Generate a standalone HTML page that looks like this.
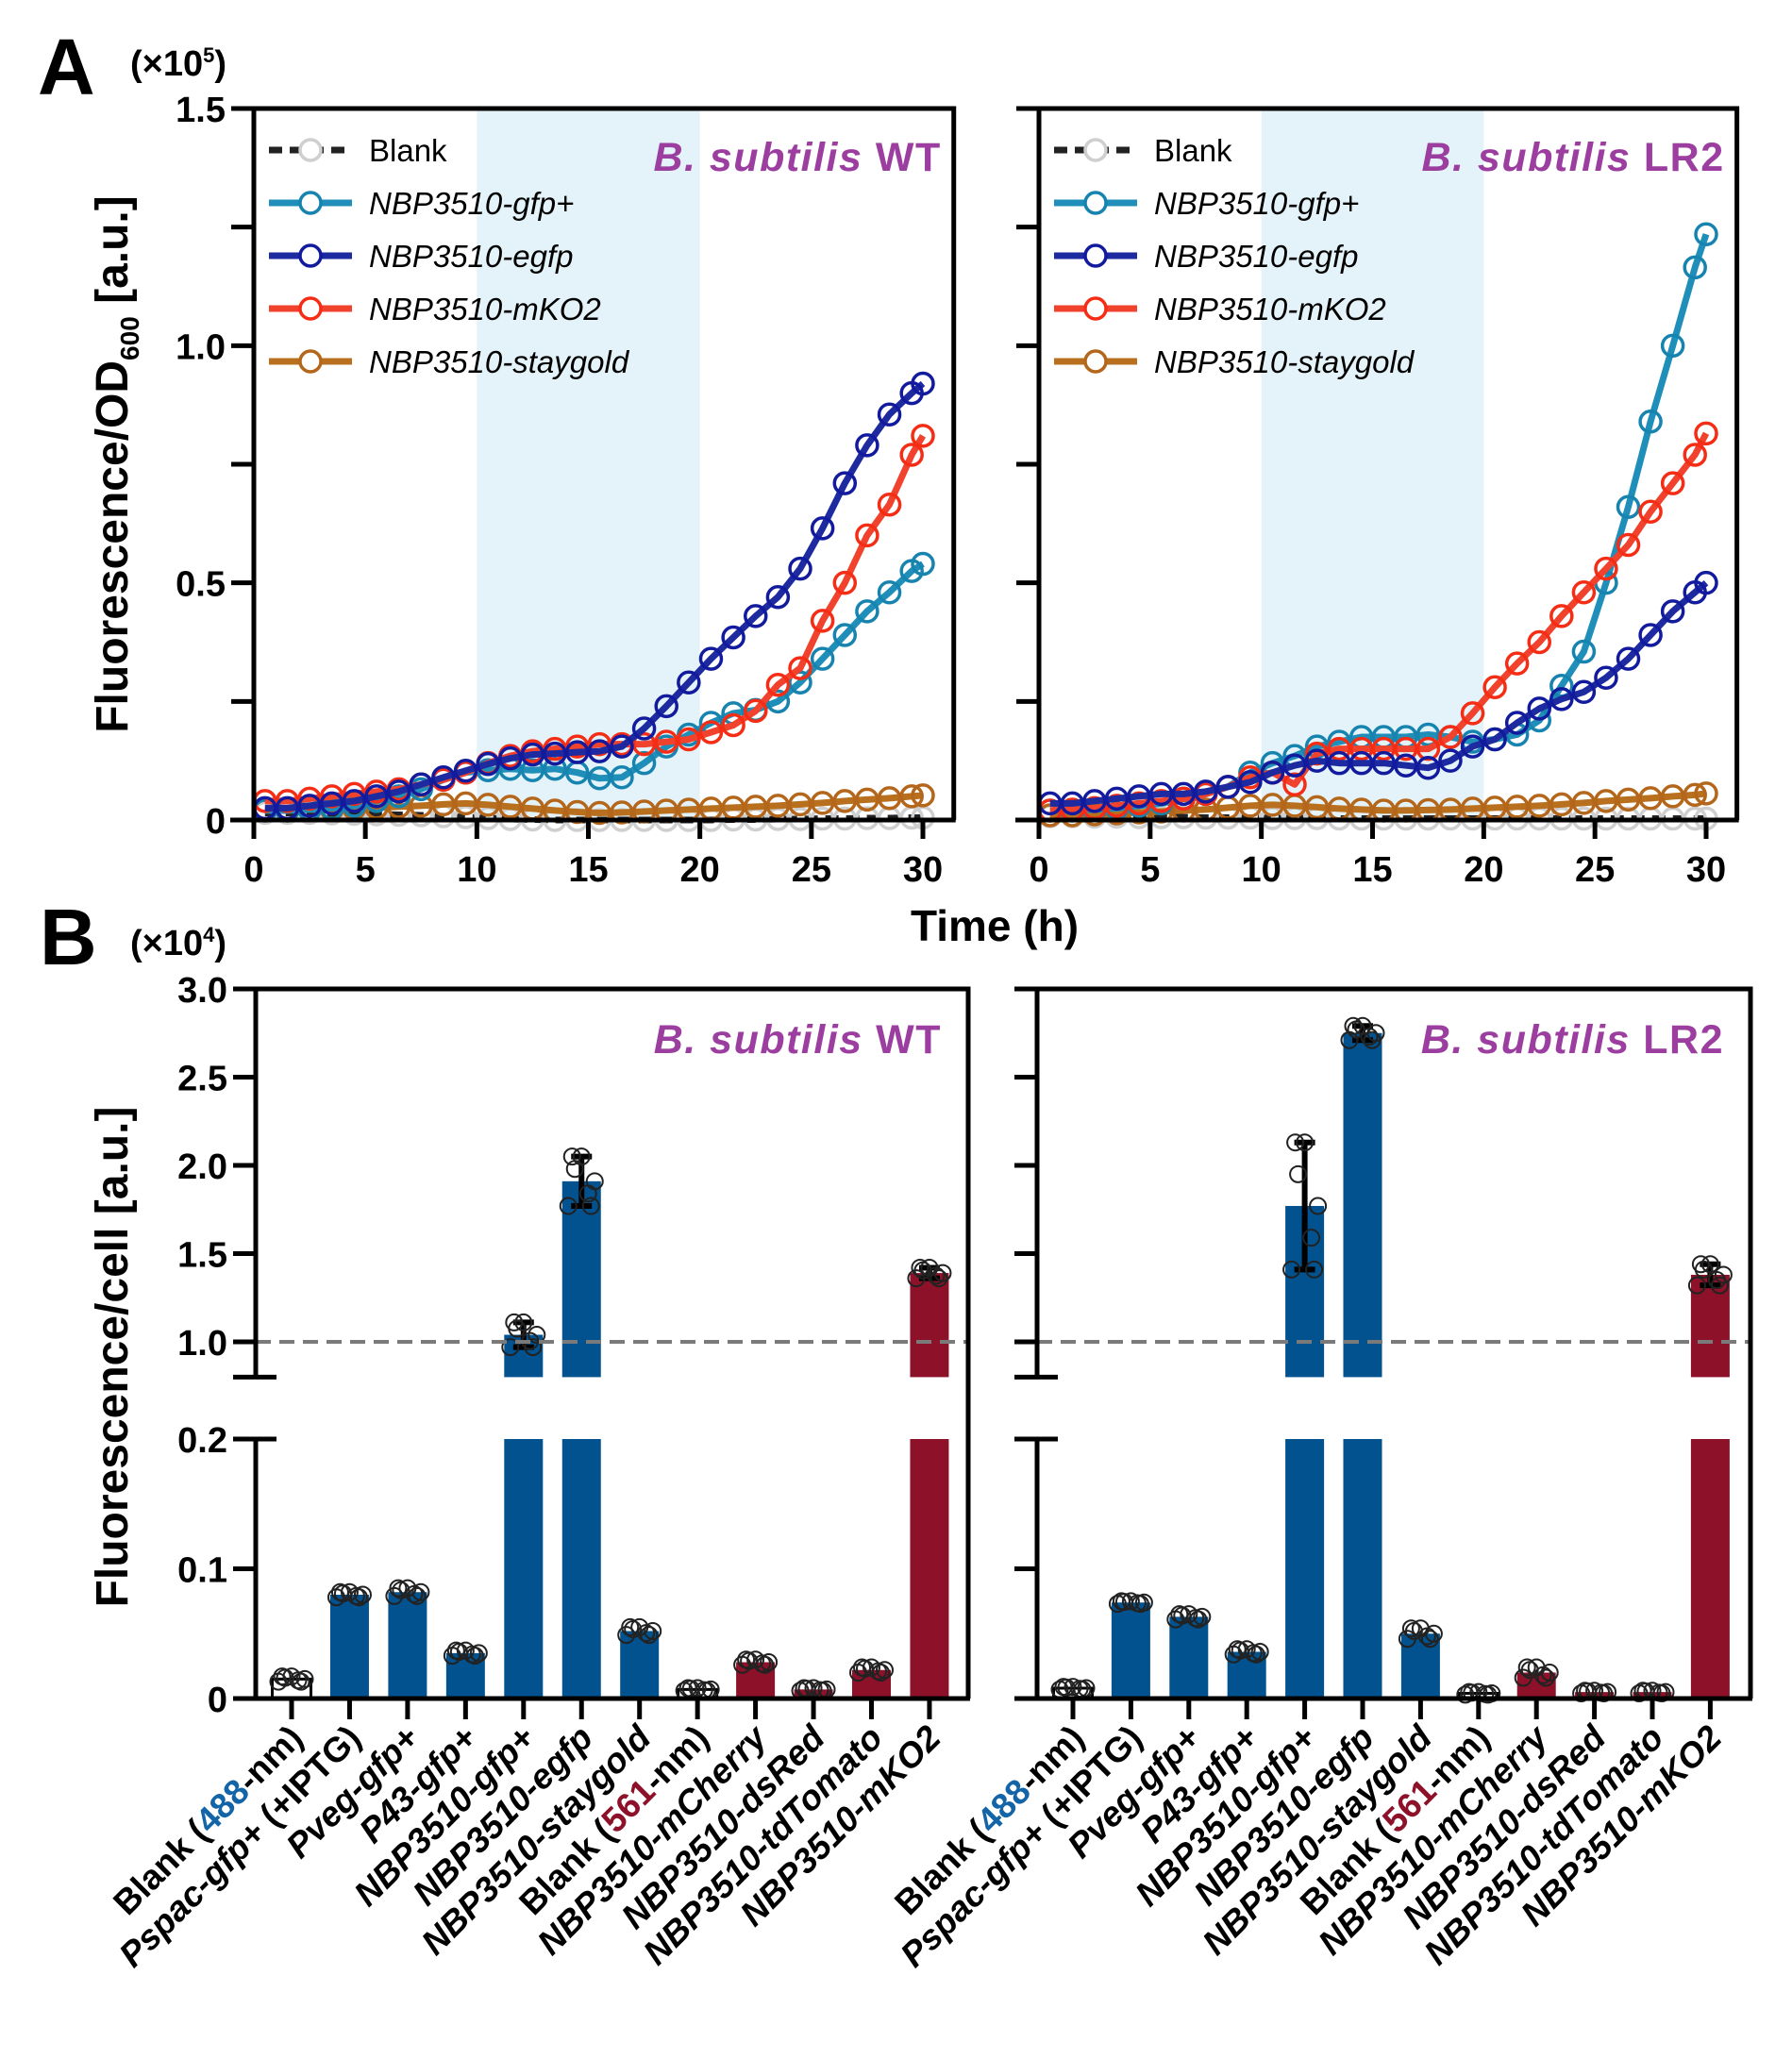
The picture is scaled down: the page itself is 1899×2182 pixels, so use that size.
<!DOCTYPE html>
<html><head><meta charset="utf-8"><style>
html,body{margin:0;padding:0;background:#fff}
svg{display:block}
text{font-family:"Liberation Sans",Arial,sans-serif}
</style></head><body>
<svg id="fig" width="1899" height="2182" viewBox="0 0 1899 2182" xmlns="http://www.w3.org/2000/svg">
<g id="static">
<text x="40" y="100" font-size="84" font-weight="bold">A</text>
<text x="138" y="80" font-size="38" font-weight="bold">(×10<tspan font-size="22" dy="-14">5</tspan><tspan dy="14">)</tspan></text>
<text x="42" y="1022" font-size="84" font-weight="bold">B</text>
<text x="138" y="1012" font-size="38" font-weight="bold">(×10<tspan font-size="22" dy="-14">4</tspan><tspan dy="14">)</tspan></text>
<text transform="translate(135,492) rotate(-90)" text-anchor="middle" font-size="48" font-weight="bold">Fluorescence/OD<tspan font-size="28" dy="12">600</tspan><tspan dy="-12"> [a.u.]</tspan></text>
<text transform="translate(135,1438) rotate(-90)" text-anchor="middle" font-size="48" font-weight="bold">Fluorescence/cell [a.u.]</text>
<text x="1054" y="997" text-anchor="middle" font-size="46" font-weight="bold">Time (h)</text>
</g>
</svg>
<script>
// ---------- Panel A data ----------
const timesA = [0.5,1.5,2.5,3.5,4.5,5.5,6.5,7.5,8.5,9.5,10.5,11.5,12.5,13.5,14.5,15.5,16.5,17.5,18.5,19.5,20.5,21.5,22.5,23.5,24.5,25.5,26.5,27.5,28.5,29.5,30];
const seriesNames = ["Blank","NBP3510-gfp+","NBP3510-egfp","NBP3510-mKO2","NBP3510-staygold"];
const wtBlank = [0.015,0.015,0.015,0.014,0.013,0.012,0.011,0.01,0.008,0.006,0.004,0.002,0.001,0,0,0,0,0,0,0,0,0.001,0.001,0.002,0.002,0.003,0.003,0.004,0.004,0.005,0.005];
const wtGfp = [0.02,0.02,0.022,0.025,0.03,0.04,0.05,0.065,0.085,0.1,0.105,0.108,0.105,0.108,0.1,0.088,0.09,0.12,0.155,0.18,0.205,0.225,0.232,0.25,0.29,0.34,0.39,0.44,0.48,0.525,0.54];
const wtEgfp = [0.025,0.025,0.03,0.035,0.04,0.05,0.06,0.075,0.09,0.104,0.118,0.13,0.138,0.14,0.143,0.145,0.155,0.193,0.24,0.29,0.34,0.385,0.43,0.47,0.53,0.615,0.71,0.79,0.855,0.9,0.92];
const wtMko2 = [0.04,0.04,0.045,0.05,0.055,0.06,0.065,0.075,0.085,0.1,0.12,0.135,0.145,0.15,0.155,0.16,0.16,0.16,0.165,0.17,0.185,0.2,0.23,0.285,0.32,0.42,0.5,0.6,0.665,0.77,0.81];
const wtStay = [0.02,0.02,0.022,0.022,0.024,0.026,0.028,0.03,0.033,0.035,0.032,0.028,0.024,0.02,0.017,0.015,0.016,0.018,0.02,0.022,0.024,0.026,0.028,0.03,0.033,0.036,0.04,0.043,0.046,0.05,0.052];
const lrBlank = [0.008,0.008,0.007,0.007,0.006,0.006,0.006,0.005,0.005,0.005,0.004,0.004,0.004,0.003,0.003,0.003,0.003,0.003,0.003,0.003,0.003,0.003,0.003,0.003,0.003,0.003,0.003,0.003,0.003,0.003,0.003];
const lrGfp = [0.02,0.02,0.022,0.025,0.03,0.035,0.045,0.055,0.07,0.1,0.12,0.135,0.155,0.165,0.175,0.175,0.175,0.18,0.175,0.165,0.17,0.18,0.21,0.283,0.355,0.5,0.66,0.84,1.0,1.165,1.235];
const lrEgfp = [0.035,0.035,0.04,0.045,0.05,0.055,0.055,0.06,0.07,0.08,0.1,0.115,0.125,0.12,0.12,0.12,0.115,0.11,0.125,0.155,0.17,0.205,0.235,0.255,0.27,0.3,0.34,0.39,0.44,0.48,0.5];
const lrMko2 = [0.02,0.022,0.025,0.03,0.035,0.04,0.045,0.055,0.07,0.09,0.1,0.075,0.14,0.15,0.15,0.15,0.15,0.15,0.175,0.225,0.28,0.33,0.375,0.43,0.48,0.53,0.58,0.65,0.71,0.77,0.815];
const lrStay = [0.01,0.01,0.012,0.014,0.016,0.018,0.02,0.022,0.026,0.03,0.032,0.03,0.027,0.024,0.022,0.02,0.02,0.021,0.022,0.024,0.026,0.028,0.03,0.033,0.036,0.04,0.043,0.046,0.05,0.053,0.056];
const xTicksA = [0,5,10,15,20,25,30];
const yTickLabelsA = ["0","0.5","1.0","1.5"];
const yTicksA = [0,0.25,0.5,0.75,1.0,1.25,1.5];

// ---------- Panel B data ----------
const categoriesB = ["Blank (488-nm)","Pspac-gfp+ (+IPTG)","Pveg-gfp+","P43-gfp+","NBP3510-gfp+","NBP3510-egfp","NBP3510-staygold","Blank (561-nm)","NBP3510-mCherry","NBP3510-dsRed","NBP3510-tdTomato","NBP3510-mKO2"];
const wtBars = [0.015,0.08,0.082,0.035,1.04,1.91,0.052,0.007,0.028,0.007,0.022,1.39];
const wtErr = [0.002,0.002,0.003,0.002,0.07,0.14,0.003,0.001,0.002,0.001,0.002,0.03];
const lrBars = [0.008,0.074,0.063,0.036,1.77,2.75,0.05,0.004,0.02,0.005,0.005,1.38];
const lrErr = [0.001,0.001,0.002,0.002,0.36,0.04,0.004,0.001,0.004,0.001,0.001,0.06];
const barKinds = ["blank","blue","blue","blue","blue","blue","blue","blank","red","red","red","red"];
const yTicksBLow = [0,0.1,0.2];
const yTicksBHigh = [1.0,1.5,2.0,2.5,3.0];

const NS="http://www.w3.org/2000/svg";
const svg=document.getElementById('fig');
function mk(tag,attrs,parent){const e=document.createElementNS(NS,tag);for(const k in attrs)e.setAttribute(k,attrs[k]);(parent||svg).appendChild(e);return e;}

const colors={"Blank":"#222","NBP3510-gfp+":"#1f8fba","NBP3510-egfp":"#1e2aa0","NBP3510-mKO2":"#f0422c","NBP3510-staygold":"#b8701e"};
const markerCol={"Blank":"#cfcfcf","NBP3510-gfp+":"#1784b0","NBP3510-egfp":"#121b9e","NBP3510-mKO2":"#f52d15","NBP3510-staygold":"#b4661a"};

function panelA(px0,px30,name,title,data){
  const y0=869,y15=115;
  const sx=t=>px0+(px30-px0)*t/30;
  const sy=v=>y0-(y0-y15)*v/1.5;
  const left=px0, right=px0+(px30-px0)*31.3/30+2;
  const g=mk('g',{});
  
  
  const sh=mk('rect',{x:sx(10),y:y15,width:sx(20)-sx(10),height:y0-y15,fill:'#e3f3f9'},g);
  
  
  const order=[0,4,1,3,2];
  order.forEach(i=>{
    const nm=seriesNames[i],vals=data[i];
    const sg=mk('g',{},g);
    
    
    const d=vals.map((v,k)=>(k?'L':'M')+sx(timesA[k]).toFixed(1)+','+sy(v).toFixed(1)).join('');
    const ln=mk('path',{d:d,fill:'none',stroke:colors[nm],'stroke-width':7,'stroke-linejoin':'round','stroke-dasharray':nm==="Blank"?'14 8':'none'},sg);
    
    
    vals.forEach((v,k)=>{
      const c=mk('circle',{cx:sx(timesA[k]),cy:sy(v),r:11,fill:'none',stroke:markerCol[nm],'stroke-width':3.5},sg);
      
      
    });
  });
  const fr=mk('path',{d:`M${left},${y15}L${right},${y15}L${right},${y0}`,fill:'none',stroke:'#000','stroke-width':5},g);
  
  
  const ya=mk('line',{x1:left,y1:y15-2,x2:left,y2:y0,stroke:'#000','stroke-width':5},g);
  
  
  const xa=mk('line',{x1:left-25,y1:y0,x2:right+2,y2:y0,stroke:'#000','stroke-width':5},g);
  
  
  yTicksA.forEach(v=>{
    const t=mk('line',{x1:left-24,y1:sy(v),x2:left,y2:sy(v),stroke:'#000','stroke-width':5},g);
    
    
  });
  if(px0<600){
    yTickLabelsA.forEach((s,k)=>{
      const t=mk('text',{x:left-30,y:sy(k*0.5)+14,'text-anchor':'end','font-size':38,'font-weight':'bold'},g);
      t.textContent=s;
      
      
    });
  }
  xTicksA.forEach(v=>{
    const t=mk('line',{x1:sx(v),y1:y0,x2:sx(v),y2:y0+20,stroke:'#000','stroke-width':5},g);
    
    
    const l=mk('text',{x:sx(v),y:y0+65,'text-anchor':'middle','font-size':38,'font-weight':'bold'},g);
    l.textContent=v;
    
    
  });
  const lg=mk('g',{},g);
  
  
  seriesNames.forEach((nm,i)=>{
    const yy=159+i*56;
    const e=mk('g',{},lg);
    
    
    mk('line',{x1:left+16,y1:yy,x2:left+104,y2:yy,stroke:colors[nm],'stroke-width':7,'stroke-dasharray':nm==="Blank"?'14 8':'none'},e);
    mk('circle',{cx:left+60,cy:yy,r:11,fill:'#fff',stroke:markerCol[nm],'stroke-width':3.5},e);
    const t=mk('text',{x:left+122,y:yy+12,'font-size':33,'font-style':nm==="Blank"?'normal':'italic'},e);
    t.textContent=nm;
  });
  const tt=mk('text',{x:right-13,y:181,'text-anchor':'end','font-size':43,'font-weight':'bold',fill:'#9b3ea0','letter-spacing':'1.5'},g);
  tt.innerHTML='<tspan font-style="italic">B. subtilis</tspan> '+title;
  
  
}
panelA(269,978,'panel-a-wt','WT',[wtBlank,wtGfp,wtEgfp,wtMko2,wtStay]);
panelA(1101,1808,'panel-a-lr2','LR2',[lrBlank,lrGfp,lrEgfp,lrMko2,lrStay]);

function panelB(axisX,rightX,c0,step,name,title,bars,errs,showLabels){
  const yLow=v=>1800-v*1375;
  const yHigh=v=>1422-(v-1)*187;
  const sy=v=>v<=0.2?yLow(v):yHigh(v);
  const g=mk('g',{});
  
  
  const jit=[-14,-7,0,7,14,-10,10];
  const jy=[-1,0.5,1,-0.5,0,1,-1];
  bars.forEach((v,i)=>{
    const cx=c0+step*i,w=41,kind=barKinds[i];
    const fill=kind==='blue'?'#02528f':kind==='red'?'#8c1129':'#fff';
    const bg=mk('g',{},g);
    
    
    if(v<=0.2){
      mk('rect',{x:cx-w/2,y:yLow(v),width:w,height:1800-yLow(v),fill:fill,stroke:kind==='blank'?'#000':'none','stroke-width':3},bg);
    }else{
      mk('rect',{x:cx-w/2,y:yLow(0.2),width:w,height:1800-yLow(0.2),fill:fill},bg);
      mk('rect',{x:cx-w/2,y:yHigh(v),width:w,height:yHigh(0.8)-yHigh(v),fill:fill},bg);
    }
    const e=errs[i];
    if(v>0.2){
      mk('line',{x1:cx,y1:sy(v+e),x2:cx,y2:sy(v-e),stroke:'#000','stroke-width':6},bg);
      mk('line',{x1:cx-11,y1:sy(v+e),x2:cx+11,y2:sy(v+e),stroke:'#000','stroke-width':6},bg);
      mk('line',{x1:cx-11,y1:sy(v-e),x2:cx+11,y2:sy(v-e),stroke:'#000','stroke-width':6},bg);
    }
    jit.forEach((dx,k)=>{
      const pv=v+jy[k]*e;
      const c=mk('circle',{cx:cx+dx,cy:sy(pv),r:8.5,fill:'none',stroke:'#222','stroke-width':2},bg);
      
      
    });
    const tk=mk('line',{x1:cx,y1:1800,x2:cx,y2:1822,stroke:'#000','stroke-width':5},g);
    
    
    const lab=categoriesB[i];
    const t=mk('text',{transform:`translate(${cx+14},${1844}) rotate(-45)`,'text-anchor':'end','font-size':37,'font-weight':'bold'},g);
    let html;
    if(lab.startsWith('Blank')){
      const num=lab.match(/\d+/)[0];
      html=`Blank (<tspan fill="${num==='488'?'#1464a8':'#8c1129'}">${num}</tspan>-nm)`;
    }else if(lab.startsWith('NBP')){
      html='<tspan font-style="italic">'+lab+'</tspan>';
    }else{
      const parts=lab.split(' ');
      html='<tspan font-style="italic">'+parts[0]+'</tspan>'+(parts[1]?' '+parts[1]:'');
    }
    t.innerHTML=html;
    
    
  });
  const dl=mk('line',{x1:axisX,y1:yHigh(1),x2:rightX,y2:yHigh(1),stroke:'#7a7a7a','stroke-width':4,'stroke-dasharray':'16 9'},g);
  
  
  const fr=mk('path',{d:`M${axisX},${yHigh(3)}L${rightX},${yHigh(3)}L${rightX},1800`,fill:'none',stroke:'#000','stroke-width':5},g);
  
  
  const ya1=mk('line',{x1:axisX,y1:yHigh(3)-2,x2:axisX,y2:yHigh(0.8),stroke:'#000','stroke-width':5},g);
  
  
  const ya2=mk('line',{x1:axisX,y1:yLow(0.2),x2:axisX,y2:1800,stroke:'#000','stroke-width':5},g);
  
  
  const xa=mk('line',{x1:axisX-24,y1:1800,x2:rightX+2,y2:1800,stroke:'#000','stroke-width':5},g);
  
  
  [[yHigh(0.8)],[yLow(0.2)]].forEach(a=>{
    const c=mk('line',{x1:axisX-24,y1:a[0],x2:axisX+22,y2:a[0],stroke:'#000','stroke-width':5},g);
    
    
  });
  yTicksBHigh.forEach(v=>{
    mk('line',{x1:axisX-24,y1:yHigh(v),x2:axisX,y2:yHigh(v),stroke:'#000','stroke-width':5},g);
    if(showLabels){
      const t=mk('text',{x:axisX-30,y:yHigh(v)+14,'text-anchor':'end','font-size':38,'font-weight':'bold'},g);
      t.textContent=v.toFixed(1);
      
      
    }
  });
  yTicksBLow.forEach(v=>{
    mk('line',{x1:axisX-24,y1:yLow(v),x2:axisX,y2:yLow(v),stroke:'#000','stroke-width':5},g);
    if(showLabels){
      const t=mk('text',{x:axisX-30,y:yLow(v)+14,'text-anchor':'end','font-size':38,'font-weight':'bold'},g);
      t.textContent=v===0?'0':v.toFixed(1);
      
      
    }
  });
  const tt=mk('text',{x:rightX-28,y:1116,'text-anchor':'end','font-size':43,'font-weight':'bold',fill:'#9b3ea0','letter-spacing':'1.5'},g);
  tt.innerHTML='<tspan font-style="italic">B. subtilis</tspan> '+title;
  
  
}
panelB(271,1026,309,61.45,'panel-b-wt','WT',wtBars,wtErr,true);
panelB(1099,1855,1137,61.4,'panel-b-lr2','LR2',lrBars,lrErr,false);
</script>
</body></html>
